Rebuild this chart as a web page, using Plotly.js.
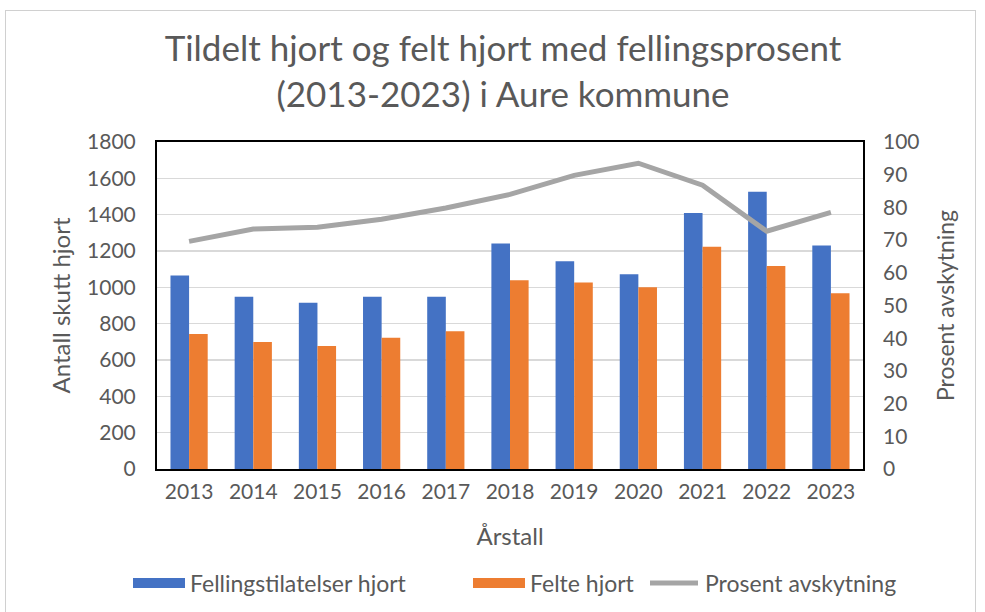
<!DOCTYPE html>
<html><head><meta charset="utf-8">
<script src="https://cdn.plot.ly/plotly-3.0.1.min.js"></script>
<style>body{margin:0;padding:0;background:#fff}#wrap{position:relative;width:985px;height:612px}#frame{position:absolute;left:5px;top:10px;width:969px;height:610px;border:1px solid #d0d0d0;pointer-events:none}</style>
</head><body><div id="wrap"><div id="chart" style="width:985px;height:612px"></div><div id="frame"></div></div>
<script>
const years = ['2013','2014','2015','2016','2017','2018','2019','2020','2021','2022','2023'];
const tildelt = [1065, 948, 915, 948, 948, 1241, 1144, 1072, 1409, 1526, 1230];
const felt = [743, 699, 677, 723, 758, 1039, 1027, 1001, 1224, 1118, 968];
const prosent = [69.6, 73.4, 73.9, 76.4, 79.8, 84.0, 89.8, 93.5, 86.8, 72.7, 78.5];
const leftTicks = [0,200,400,600,800,1000,1200,1400,1600,1800];
const rightTicks = [0,10,20,30,40,50,60,70,80,90,100];
const seriesNames = ['Fellingstilatelser hjort', 'Felte hjort', 'Prosent avskytning'];
const colors = ['#4472c4', '#ed7d31', '#a5a5a5'];

const F = "Lato, 'Open Sans', sans-serif";
const grey = '#595959';
const W = 985, H = 612, ML = 157, MR = 122, MT = 142, MB = 143;
const PW = W - ML - MR, PH = H - MT - MB;
const px = x => (x - ML) / PW;
const py = y => (H - MB - y) / PH;

const data = [
  {type:'bar', x:years, y:tildelt, name:seriesNames[0], marker:{color:colors[0]}},
  {type:'bar', x:years, y:felt, name:seriesNames[1], marker:{color:colors[1]}},
  {type:'scatter', mode:'lines', x:years, y:prosent, name:seriesNames[2], yaxis:'y2', line:{color:colors[2], width:5}}
];

// custom legend (wide swatches like the original)
const legY = 583;
const legItems = [{x0:133, tx:188}, {x0:473, tx:528}, {x0:648, tx:703}];
const shapes = [];
const annotations = [];
legItems.forEach((it, i) => {
  if (i < 2) {
    shapes.push({type:'rect', xref:'paper', yref:'paper', x0:px(it.x0), x1:px(it.x0+52), y0:py(legY+5), y1:py(legY-5), fillcolor:colors[i], line:{width:0}});
  } else {
    shapes.push({type:'line', xref:'paper', yref:'paper', x0:px(it.x0+2), x1:px(it.x0+50), y0:py(legY), y1:py(legY), line:{color:colors[i], width:5}});
  }
  annotations.push({xref:'paper', yref:'paper', x:px(it.tx), y:py(legY), xanchor:'left', yanchor:'middle', text:seriesNames[i], showarrow:false, font:{size:23, color:grey, family:F}});
});

const layout = {
  width:W, height:H,
  margin:{l:ML, r:MR, t:MT, b:MB},
  paper_bgcolor:'#fff', plot_bgcolor:'#fff',
  font:{family:F, color:grey, size:21},
  title:{text:'Tildelt hjort og felt hjort med fellingsprosent<br>(2013-2023) i Aure kommune', xref:'container', x:503/W, xanchor:'center', yref:'container', y:1-61/H, yanchor:'top', font:{size:35, color:grey, family:F}},
  barmode:'group', bargap:0.42, bargroupgap:0,
  xaxis:{type:'category', showline:true, linecolor:'#000', linewidth:2, mirror:true, ticks:'', ticklabelstandoff:3, tickfont:{size:21}, title:{text:'Årstall', font:{size:24}, standoff:26}},
  yaxis:{range:[0,1800], tickvals:leftTicks, showgrid:true, gridcolor:'#d9d9d9', gridwidth:1.5, showline:true, linecolor:'#000', linewidth:2, mirror:true, zeroline:false, ticks:'', ticklabelstandoff:15, tickfont:{size:21}, title:{text:'Antall skutt hjort', font:{size:24}, standoff:10}},
  yaxis2:{range:[0,100], tickvals:rightTicks, overlaying:'y', side:'right', showgrid:false, zeroline:false, ticks:'', ticklabelstandoff:19, tickfont:{size:21}, title:{text:'Prosent avskytning', font:{size:23}, standoff:19}},
  showlegend:false,
  shapes:shapes, annotations:annotations
};
Plotly.newPlot('chart', data, layout, {displayModeBar:false, staticPlot:true});
</script></body></html>
